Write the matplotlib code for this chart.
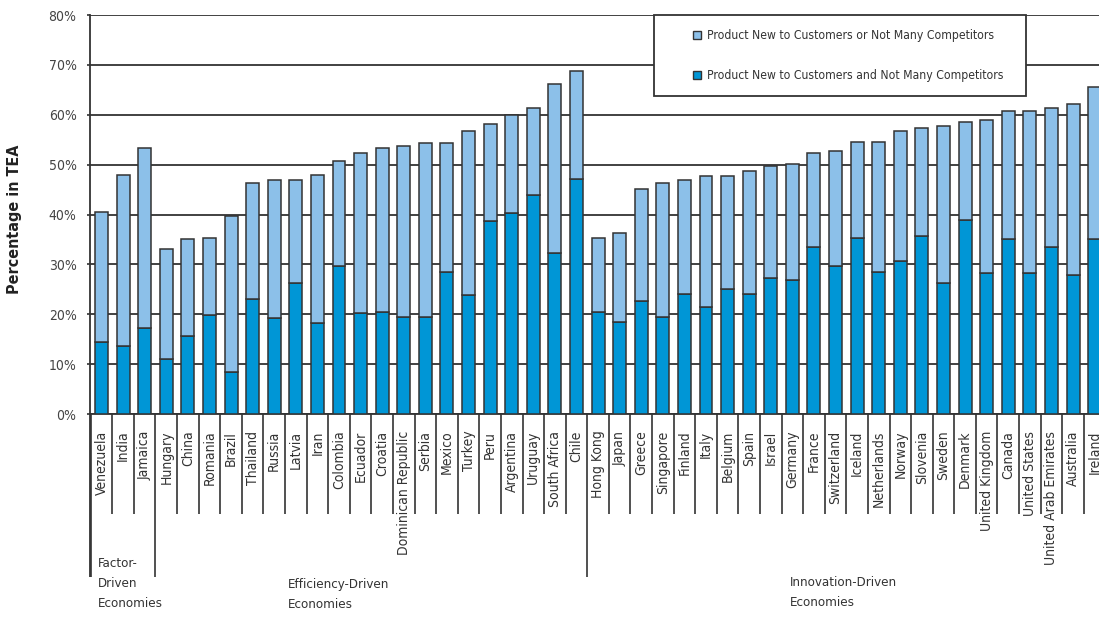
"""
TEA share of products new to customers / with few competitors,
grouped by economy type (factor / efficiency / innovation driven).
"""

import matplotlib
matplotlib.use('Agg')
import matplotlib.pyplot as plt
import matplotlib.transforms as mtransforms
from matplotlib.patches import Rectangle
import numpy as np

# ── Data ──────────────────────────────────────────────────────────────────────
countries = [
    'Venezuela', 'India', 'Jamaica',
    'Hungary', 'China', 'Romania', 'Brazil', 'Thailand', 'Russia', 'Latvia',
    'Iran', 'Colombia', 'Ecuador', 'Croatia', 'Dominican Republic', 'Serbia',
    'Mexico', 'Turkey', 'Peru', 'Argentina', 'Uruguay', 'South Africa', 'Chile',
    'Hong Kong', 'Japan', 'Greece', 'Singapore', 'Finland', 'Italy', 'Belgium',
    'Spain', 'Israel', 'Germany', 'France', 'Switzerland', 'Iceland',
    'Netherlands', 'Norway', 'Slovenia', 'Sweden', 'Denmark', 'United Kingdom',
    'Canada', 'United States', 'United Arab Emirates', 'Australia', 'Ireland',
]

# new to customers AND not many competitors (%)
both_pct = [
    14.4, 13.7, 17.2,
    11.0, 15.6, 19.8, 8.5, 23.0, 19.3, 26.3,
    18.2, 29.6, 20.2, 20.4, 19.5, 19.5,
    28.5, 23.9, 38.7, 40.4, 44.0, 32.2, 47.2,
    20.4, 18.5, 22.6, 19.5, 24.0, 21.5, 25.1,
    24.0, 27.2, 26.9, 33.5, 29.7, 35.3,
    28.5, 30.7, 35.7, 26.3, 38.9, 28.3,
    35.0, 28.2, 33.5, 27.9, 35.1,
]

# new to customers OR not many competitors (%), bar total
either_pct = [
    40.5, 47.9, 53.4,
    33.1, 35.0, 35.3, 39.6, 46.4, 46.9, 46.9,
    47.9, 50.8, 52.4, 53.4, 53.7, 54.3,
    54.3, 56.7, 58.2, 60.0, 61.3, 66.2, 68.7,
    35.3, 36.2, 45.1, 46.3, 46.9, 47.8, 47.8,
    48.7, 49.8, 50.2, 52.4, 52.7, 54.6,
    54.6, 56.7, 57.4, 57.7, 58.5, 58.9,
    60.7, 60.7, 61.3, 62.2, 65.6,
]

group_names = ['Factor-\nDriven\nEconomies',
               'Efficiency-Driven\nEconomies',
               'Innovation-Driven\nEconomies']
group_sizes = [3, 20, 24]

y_ticks = [0, 10, 20, 30, 40, 50, 60, 70, 80]

legend_labels = ['Product New to Customers or Not Many Competitors',
                 'Product New to Customers and Not Many Competitors']

# ── Style ─────────────────────────────────────────────────────────────────────
DARK  = '#0096d6'
LIGHT = '#8cc0e9'
EDGE  = '#333333'
TEXT  = '#333333'

plt.rcParams['font.family'] = ['DejaVu Sans']
plt.rcParams['font.stretch'] = 'condensed'

W, H = 1099, 621
slot = 21.59                  # px per country
x_lo, x_hi = -0.55, 46.55     # right end runs past the figure edge
ax_left = 101.5 + x_lo * slot

fig = plt.figure(figsize=(W / 100, H / 100), dpi=100)
ax = fig.add_axes([ax_left / W, 207 / H, (x_hi - x_lo) * slot / W, 399 / H])

# ── Bars ──────────────────────────────────────────────────────────────────────
x = np.arange(len(countries))
both = np.array(both_pct)
either = np.array(either_pct)

ax.bar(x, both, width=0.6, color=DARK, edgecolor=EDGE, linewidth=1.1, zorder=3)
ax.bar(x, either - both, bottom=both, width=0.6, color=LIGHT,
       edgecolor=EDGE, linewidth=1.1, zorder=3)

ax.set_xlim(x_lo, x_hi)
ax.set_ylim(0, 80)

# ── Axes / grid ───────────────────────────────────────────────────────────────
ax.set_yticks(y_ticks)
ax.set_yticklabels([f'{v}%' for v in y_ticks], fontsize=10, color='#444444')
ax.tick_params(axis='y', length=2.5, width=1.2, color=EDGE, pad=7)
ax.yaxis.grid(True, color=EDGE, linewidth=1.3)
ax.set_axisbelow(True)

for side in ['top', 'right']:
    ax.spines[side].set_visible(False)
for side in ['left', 'bottom']:
    ax.spines[side].set_color(EDGE)
    ax.spines[side].set_linewidth(1.3)

ax.set_xticks(x)
ax.set_xticklabels(countries, rotation=90, fontsize=10, color=TEXT)
ax.tick_params(axis='x', length=0, pad=12)

ax.set_ylabel('Percentage in TEA', fontsize=11.5, fontweight='bold', color='#222222')
ax.yaxis.set_label_coords(-0.0665, 0.489)

# ── Separators below the axis ─────────────────────────────────────────────────
trans = mtransforms.blended_transform_factory(ax.transData, ax.transAxes)
short_end = -100 / 399
long_end = -163 / 399

edges = np.cumsum([0] + group_sizes) - 0.5
group_edges = set(np.round(edges[:-1], 1))
for b in np.arange(-0.5, len(countries), 1.0):
    end = long_end if round(b, 1) in group_edges else short_end
    ax.plot([b, b], [0, end], color=EDGE, lw=1.2, transform=trans,
            clip_on=False, solid_capstyle='butt')
# axis line continues down the left of the factor group
ax.plot([x_lo, x_lo], [0, long_end], color=EDGE, lw=1.3, transform=trans,
        clip_on=False, solid_capstyle='butt')

# ── Group labels ──────────────────────────────────────────────────────────────
group_px = [(98, 557), (288, 578), (790, 576)]
for name, (px, py) in zip(group_names, group_px):
    fig.text(px / W, 1 - py / H, name, fontsize=9.5, color=TEXT,
             ha='left', va='top', linespacing=1.7)

# ── Legend (framed box on top of the grid) ────────────────────────────────────
fig.patches.append(Rectangle((654 / W, 1 - 96 / H), 372 / W, 81 / H,
                             transform=fig.transFigure, facecolor='white',
                             edgecolor=EDGE, linewidth=1.3, zorder=5))
for lab, col, py in zip(legend_labels, [LIGHT, DARK], [35, 75]):
    fig.patches.append(Rectangle((693 / W, 1 - (py + 4) / H), 8 / W, 8 / H,
                                 transform=fig.transFigure, facecolor=col,
                                 edgecolor=EDGE, linewidth=1.0, zorder=6))
    fig.text(707 / W, 1 - py / H, lab, fontsize=8.7, color=TEXT,
             ha='left', va='center', zorder=7)

fig.savefig('out.png', dpi=100)
